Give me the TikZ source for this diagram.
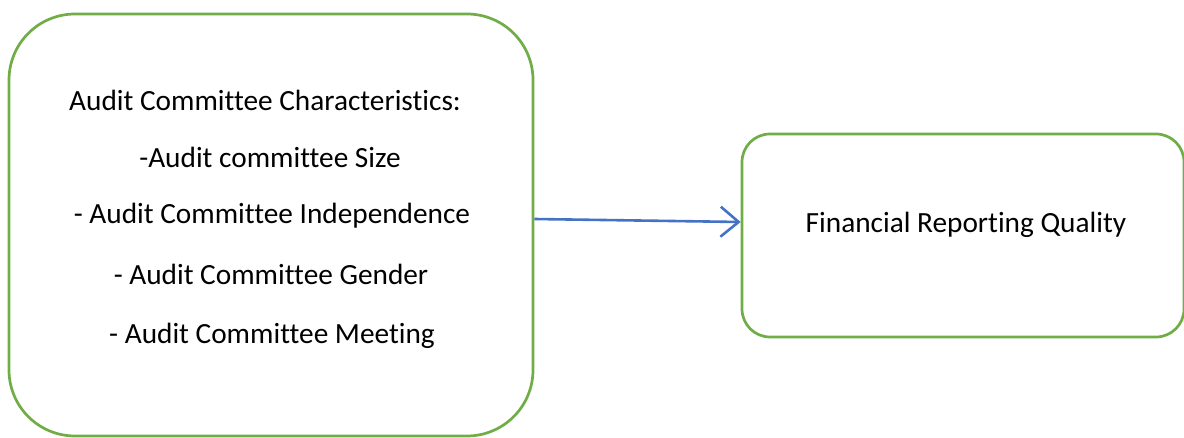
\documentclass[tikz,border=0pt]{standalone}
\usepackage{fontspec}
\setmainfont{Carlito}[Ligatures={NoCommon}]
\usetikzlibrary{arrows.meta}
\definecolor{boxgreen}{HTML}{70AD47}
\definecolor{arrowblue}{HTML}{4472C4}
\tikzset{
  box/.style={draw=boxgreen, line width=2.7pt, fill=none, inner sep=0pt},
  lbl/.style={font=\fontsize{29.3}{34}\selectfont, inner sep=0pt, anchor=center},
  conn/.style={draw=arrowblue, line width=2.6pt, -{Straight Barb[length=18pt,width=30pt,line width=2.6pt]}}
}
\begin{document}
\begin{tikzpicture}[x=1pt,y=1pt]
\useasboundingbox (0,0) rectangle (1184,437);
\node[box, minimum width=524pt, minimum height=422pt, rounded corners=66pt] (L) at (271,212) {};
\node[box, minimum width=442pt, minimum height=203pt, rounded corners=28pt] (R) at (963,201.5) {};
\node[lbl] (t1) at (265,337) {Audit Committee Characteristics:};
\node[lbl] (t2) at (270,280) {-Audit committee Size};
\node[lbl] (t3) at (272,221) {- Audit Committee Independence};
\node[lbl] (t4) at (271,163) {- Audit Committee Gender};
\node[lbl] (t5) at (272,101) {- Audit Committee Meeting};
\node[lbl] (f) at (966,212) {Financial Reporting Quality};
\coordinate (a) at ([yshift=6pt]L.east);
\coordinate (b) at ([yshift=13.5pt]R.west);
\draw[conn] (a) -- (b);
\end{tikzpicture}
\end{document}
